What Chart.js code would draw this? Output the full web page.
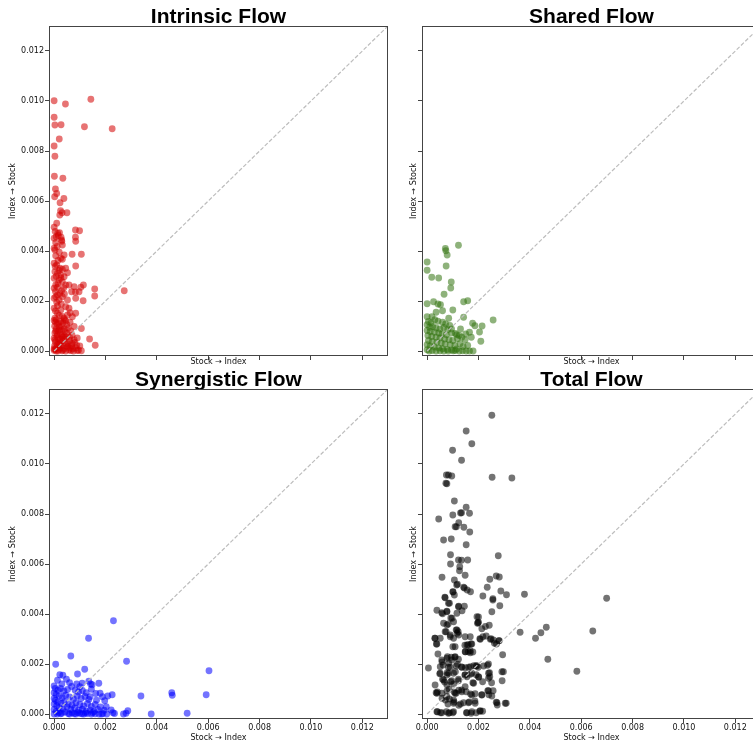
<!DOCTYPE html>
<html>
<head>
<meta charset="utf-8">
<script src="https://cdn.jsdelivr.net/npm/chart.js@4.4.1/dist/chart.umd.min.js"></script>
<style>
html, body { margin: 0; padding: 0; background: #fff; overflow: hidden; width: 753px; height: 745px; }
.panel { position: absolute; }
</style>
</head>
<body>
<div class="panel" style="left:0;top:0;width:395px;height:372px"><canvas id="c0"></canvas></div>
<div class="panel" style="left:400px;top:0;width:362px;height:372px"><canvas id="c1"></canvas></div>
<div class="panel" style="left:0;top:363px;width:395px;height:382px"><canvas id="c2"></canvas></div>
<div class="panel" style="left:400px;top:363px;width:362px;height:382px"><canvas id="c3"></canvas></div>
<script>
// axis setup
const axisMin = -0.0002;
const axisMax = 0.013;
const tickValues = [0, 0.002, 0.004, 0.006, 0.008, 0.010, 0.012];
const titles = ['Intrinsic Flow', 'Shared Flow', 'Synergistic Flow', 'Total Flow'];
const xLabel = 'Stock \u2192 Index';
const yLabel = 'Index \u2192 Stock';

// [stock->index, index->stock]
const intrinsicPoints = [
  [0.00000,0.01001],[0.00143,0.01007],[0.00044,0.00988],[0.00000,0.00935],[0.00003,0.00904],[0.00027,0.00905],
  [0.00118,0.00897],[0.00226,0.00889],[0.00020,0.00848],[0.00000,0.00820],[0.00003,0.00779],[0.00001,0.00699],
  [0.00034,0.00691],[0.00005,0.00648],[0.00010,0.00630],[0.00002,0.00617],[0.00038,0.00610],[0.00023,0.00593],
  [0.00025,0.00561],[0.00031,0.00553],[0.00050,0.00553],[0.00022,0.00544],[0.00010,0.00511],[0.00000,0.00495],
  [0.00083,0.00484],[0.00099,0.00481],[0.00014,0.00471],[0.00021,0.00473],[0.00027,0.00455],[0.00000,0.00451],
  [0.00030,0.00439],[0.00083,0.00455],[0.00084,0.00439],[0.00008,0.00457],[0.00029,0.00444],[0.00006,0.00433],
  [0.00032,0.00424],[0.00000,0.00411],[0.00003,0.00404],[0.00039,0.00384],[0.00032,0.00367],[0.00026,0.00371],
  [0.00070,0.00387],[0.00106,0.00387],[0.00084,0.00340],[0.00000,0.00351],[0.00010,0.00344],[0.00023,0.00331],
  [0.00032,0.00327],[0.00045,0.00331],[0.00003,0.00317],[0.00013,0.00311],[0.00052,0.00313],[0.00026,0.00304],
  [0.00039,0.00297],[0.00000,0.00291],[0.00019,0.00284],[0.00032,0.00277],[0.00006,0.00264],[0.00045,0.00264],
  [0.00058,0.00264],[0.00000,0.00251],[0.00013,0.00255],[0.00029,0.00241],[0.00078,0.00257],[0.00097,0.00237],
  [0.00104,0.00255],[0.00114,0.00264],[0.00158,0.00248],[0.00158,0.00220],[0.00273,0.00241],[0.00068,0.00237],
  [0.00083,0.00236],[0.00013,0.00224],[0.00000,0.00211],[0.00006,0.00217],[0.00032,0.00217],[0.00052,0.00204],
  [0.00113,0.00201],[0.00019,0.00204],[0.00084,0.00211],[0.00045,0.00177],[0.00058,0.00171],[0.00026,0.00164],
  [0.00013,0.00180],[0.00000,0.00171],[0.00052,0.00144],[0.00071,0.00137],[0.00039,0.00131],[0.00013,0.00151],
  [0.00003,0.00131],[0.00084,0.00151],[0.00062,0.00153],[0.00000,0.00122],[0.00005,0.00115],[0.00012,0.00108],
  [0.00002,0.00099],[0.00020,0.00095],[0.00008,0.00088],[0.00030,0.00086],[0.00015,0.00079],[0.00003,0.00072],
  [0.00042,0.00078],[0.00025,0.00068],[0.00055,0.00092],[0.00065,0.00080],[0.00038,0.00062],[0.00011,0.00058],
  [0.00000,0.00051],[0.00048,0.00055],[0.00070,0.00063],[0.00022,0.00047],[0.00032,0.00040],[0.00060,0.00042],
  [0.00005,0.00036],[0.00017,0.00031],[0.00045,0.00030],[0.00080,0.00035],[0.00090,0.00052],[0.00028,0.00022],
  [0.00002,0.00020],[0.00010,0.00013],[0.00052,0.00016],[0.00068,0.00021],[0.00085,0.00012],[0.00038,0.00010],
  [0.00020,0.00006],[0.00000,0.00003],[0.00008,0.00000],[0.00031,0.00001],[0.00058,0.00004],[0.00075,0.00000],
  [0.00095,0.00003],[0.00106,0.00001],[0.00106,0.00090],[0.00138,0.00048],[0.00160,0.00023],[0.00015,0.00000],
  [0.00045,0.00000],[0.00000,0.00009],[0.00012,0.00065],[0.00035,0.00112],[0.00050,0.00105],[0.00078,0.00098],
  [0.00062,0.00115],[0.00040,0.00125],[0.00025,0.00118],[0.00090,0.00002],[0.00088,0.00022],[0.00100,0.00020],
  [0.00072,0.00009],[0.00065,0.00002],[0.00055,0.00028],[0.00020,0.00025],[0.00033,0.00055],
  [0.00004,0.00478],[0.00016,0.00462],[0.00012,0.00418],[0.00020,0.00395],[0.00006,0.00381],[0.00015,0.00362],
  [0.00004,0.00338],[0.00020,0.00322],[0.00008,0.00298],[0.00026,0.00292],[0.00015,0.00270],[0.00037,0.00252],
  [0.00005,0.00238],[0.00022,0.00230],[0.00040,0.00228],[0.00010,0.00195],[0.00028,0.00188],[0.00005,0.00160],
  [0.00020,0.00142],[0.00032,0.00138],[0.00045,0.00120],[0.00008,0.00125],[0.00018,0.00112],[0.00028,0.00100],
  [0.00040,0.00088],[0.00006,0.00080],[0.00020,0.00084],[0.00050,0.00070],[0.00015,0.00050],[0.00030,0.00060],
  [0.00060,0.00055],[0.00003,0.00044],[0.00040,0.00048],[0.00025,0.00035],[0.00012,0.00026],[0.00048,0.00020],
  [0.00062,0.00012],[0.00024,0.00012],[0.00035,0.00004],[0.00005,0.00006],[0.00078,0.00045],[0.00070,0.00030]
];

const sharedPoints = [
  [0.00122,0.00423],[0.00071,0.00410],[0.00073,0.00401],[0.00078,0.00384],[0.00000,0.00356],[0.00000,0.00323],
  [0.00074,0.00340],[0.00018,0.00295],[0.00045,0.00292],[0.00094,0.00276],[0.00092,0.00252],[0.00066,0.00227],
  [0.00000,0.00189],[0.00025,0.00197],[0.00042,0.00188],[0.00052,0.00185],[0.00060,0.00161],[0.00100,0.00164],
  [0.00142,0.00197],[0.00158,0.00201],[0.00000,0.00137],[0.00019,0.00137],[0.00035,0.00155],[0.00084,0.00131],
  [0.00142,0.00135],[0.00177,0.00111],[0.00186,0.00101],[0.00214,0.00100],[0.00257,0.00124],[0.00204,0.00076],
  [0.00209,0.00039],[0.00179,0.00000],[0.00005,0.00118],[0.00015,0.00112],[0.00030,0.00125],[0.00042,0.00119],
  [0.00060,0.00115],[0.00072,0.00108],[0.00088,0.00102],[0.00000,0.00105],[0.00010,0.00095],[0.00022,0.00098],
  [0.00035,0.00092],[0.00050,0.00088],[0.00065,0.00094],[0.00080,0.00085],[0.00000,0.00082],[0.00012,0.00078],
  [0.00028,0.00075],[0.00045,0.00072],[0.00058,0.00068],[0.00075,0.00065],[0.00095,0.00072],[0.00110,0.00070],
  [0.00125,0.00062],[0.00003,0.00062],[0.00018,0.00058],[0.00035,0.00055],[0.00050,0.00052],[0.00068,0.00048],
  [0.00085,0.00045],[0.00100,0.00042],[0.00118,0.00049],[0.00135,0.00055],[0.00148,0.00045],[0.00005,0.00042],
  [0.00020,0.00038],[0.00038,0.00035],[0.00055,0.00032],[0.00070,0.00028],[0.00090,0.00025],[0.00108,0.00022],
  [0.00128,0.00029],[0.00140,0.00018],[0.00158,0.00022],[0.00000,0.00025],[0.00012,0.00020],[0.00028,0.00016],
  [0.00045,0.00012],[0.00060,0.00009],[0.00078,0.00006],[0.00095,0.00004],[0.00110,0.00002],[0.00125,0.00000],
  [0.00138,0.00001],[0.00152,0.00000],[0.00165,0.00000],[0.00000,0.00005],[0.00008,0.00000],[0.00020,0.00002],
  [0.00035,0.00000],[0.00050,0.00001],[0.00065,0.00000],[0.00082,0.00000],[0.00102,0.00001],[0.00115,0.00008],
  [0.00172,0.00055],[0.00165,0.00075],[0.00115,0.00065],[0.00095,0.00088],[0.00130,0.00088],[0.00150,0.00068]
];

const synergisticPoints = [
  [0.00231,0.00373],[0.00134,0.00303],[0.00065,0.00232],[0.00006,0.00199],[0.00282,0.00211],[0.00603,0.00173],
  [0.00119,0.00179],[0.00091,0.00160],[0.00022,0.00157],[0.00034,0.00155],[0.00013,0.00135],[0.00048,0.00139],
  [0.00135,0.00131],[0.00174,0.00123],[0.00148,0.00117],[0.00338,0.00072],[0.00458,0.00085],[0.00460,0.00075],
  [0.00592,0.00077],[0.00226,0.00077],[0.00179,0.00083],[0.00209,0.00072],[0.00197,0.00053],[0.00203,0.00029],
  [0.00287,0.00013],[0.00280,0.00003],[0.00270,0.00000],[0.00378,0.00000],[0.00518,0.00003],[0.00229,0.00005],
  [0.00222,0.00016],[0.00109,0.00123],[0.00100,0.00109],[0.00145,0.00099],[0.00140,0.00069],[0.00188,0.00069],
  [0.00000,0.00112],[0.00004,0.00102],[0.00015,0.00095],[0.00025,0.00102],[0.00038,0.00092],[0.00052,0.00098],
  [0.00068,0.00110],[0.00082,0.00095],[0.00095,0.00088],[0.00110,0.00094],[0.00125,0.00085],[0.00000,0.00085],
  [0.00008,0.00078],[0.00020,0.00072],[0.00032,0.00065],[0.00045,0.00075],[0.00060,0.00068],[0.00075,0.00060],
  [0.00090,0.00072],[0.00105,0.00062],[0.00120,0.00070],[0.00135,0.00058],[0.00000,0.00062],[0.00005,0.00055],
  [0.00014,0.00048],[0.00028,0.00042],[0.00040,0.00050],[0.00055,0.00040],[0.00070,0.00035],[0.00085,0.00045],
  [0.00100,0.00038],[0.00115,0.00032],[0.00130,0.00042],[0.00145,0.00030],[0.00160,0.00038],[0.00000,0.00040],
  [0.00010,0.00033],[0.00020,0.00025],[0.00035,0.00020],[0.00050,0.00028],[0.00065,0.00018],[0.00080,0.00024],
  [0.00095,0.00015],[0.00110,0.00019],[0.00125,0.00010],[0.00140,0.00016],[0.00155,0.00010],[0.00170,0.00018],
  [0.00000,0.00018],[0.00008,0.00010],[0.00018,0.00006],[0.00030,0.00003],[0.00042,0.00008],[0.00055,0.00002],
  [0.00070,0.00005],[0.00085,0.00000],[0.00100,0.00003],[0.00115,0.00000],[0.00130,0.00002],[0.00145,0.00000],
  [0.00160,0.00001],[0.00175,0.00000],[0.00190,0.00002],[0.00205,0.00000],[0.00000,0.00000],[0.00012,0.00000],
  [0.00025,0.00001],[0.00060,0.00000],[0.00078,0.00001],[0.00092,0.00006],[0.00108,0.00001],[0.00122,0.00004],
  [0.00150,0.00005],[0.00185,0.00000],[0.00235,0.00002],[0.00195,0.00015],[0.00180,0.00028],[0.00165,0.00055],
  [0.00142,0.00120],[0.00088,0.00120],[0.00060,0.00125],[0.00030,0.00120],[0.00162,0.00082]
];

const totalPoints = [
  [0.00252,0.01195],[0.00152,0.01132],[0.00174,0.01081],[0.00099,0.01055],[0.00134,0.01015],[0.00075,0.00956],
  [0.00083,0.00956],[0.00096,0.00952],[0.00073,0.00923],[0.00077,0.00921],[0.00253,0.00947],[0.00330,0.00944],
  [0.00106,0.00852],[0.00152,0.00827],[0.00045,0.00780],[0.00100,0.00796],[0.00130,0.00804],[0.00134,0.00805],
  [0.00165,0.00803],[0.00123,0.00765],[0.00114,0.00749],[0.00109,0.00749],[0.00143,0.00747],[0.00166,0.00728],
  [0.00064,0.00696],[0.00094,0.00700],[0.00152,0.00677],[0.00091,0.00637],[0.00277,0.00633],[0.00122,0.00616],
  [0.00134,0.00615],[0.00158,0.00616],[0.00127,0.00589],[0.00126,0.00573],[0.00091,0.00600],[0.00148,0.00555],
  [0.00058,0.00547],[0.00106,0.00536],[0.00118,0.00519],[0.00269,0.00552],[0.00281,0.00548],[0.00244,0.00539],
  [0.00234,0.00507],[0.00145,0.00504],[0.00156,0.00496],[0.00169,0.00489],[0.00287,0.00492],[0.00309,0.00477],
  [0.00379,0.00479],[0.00101,0.00488],[0.00106,0.00476],[0.00069,0.00467],[0.00217,0.00472],[0.00256,0.00461],
  [0.00256,0.00456],[0.00699,0.00463],[0.00087,0.00443],[0.00283,0.00433],[0.00252,0.00409],[0.00038,0.00415],
  [0.00077,0.00411],[0.00060,0.00401],[0.00123,0.00431],[0.00145,0.00431],[0.00136,0.00413],[0.00092,0.00384],
  [0.00097,0.00383],[0.00082,0.00360],[0.00200,0.00388],[0.00200,0.00367],[0.00196,0.00363],[0.00113,0.00336],
  [0.00121,0.00329],[0.00117,0.00323],[0.00123,0.00316],[0.00074,0.00329],[0.00090,0.00309],[0.00213,0.00341],
  [0.00227,0.00350],[0.00242,0.00355],[0.00362,0.00327],[0.00464,0.00347],[0.00443,0.00325],[0.00422,0.00303],
  [0.00645,0.00332],[0.00030,0.00303],[0.00051,0.00303],[0.00036,0.00280],[0.00168,0.00309],[0.00205,0.00301],
  [0.00217,0.00309],[0.00230,0.00312],[0.00249,0.00301],[0.00258,0.00296],[0.00281,0.00293],[0.00262,0.00283],
  [0.00270,0.00280],[0.00147,0.00275],[0.00160,0.00277],[0.00171,0.00280],[0.00100,0.00269],[0.00109,0.00269],
  [0.00042,0.00240],[0.00294,0.00237],[0.00470,0.00219],[0.00149,0.00249],[0.00160,0.00249],[0.00168,0.00245],
  [0.00178,0.00248],[0.00079,0.00229],[0.00094,0.00227],[0.00108,0.00227],[0.00583,0.00171],[0.00005,0.00184],
  [0.00058,0.00208],[0.00062,0.00196],[0.00084,0.00203],[0.00083,0.00187],[0.00118,0.00199],[0.00113,0.00192],
  [0.00134,0.00188],[0.00149,0.00185],[0.00169,0.00189],[0.00182,0.00193],[0.00191,0.00193],[0.00199,0.00187],
  [0.00235,0.00195],[0.00049,0.00161],[0.00078,0.00165],[0.00084,0.00163],[0.00110,0.00169],[0.00147,0.00156],
  [0.00168,0.00159],[0.00191,0.00157],[0.00201,0.00147],[0.00243,0.00165],[0.00244,0.00149],[0.00297,0.00169],
  [0.00060,0.00139],[0.00068,0.00128],[0.00092,0.00129],[0.00122,0.00133],[0.00178,0.00125],[0.00216,0.00129],
  [0.00251,0.00125],[0.00292,0.00133],[0.00035,0.00085],[0.00040,0.00088],[0.00077,0.00092],[0.00086,0.00099],
  [0.00106,0.00087],[0.00113,0.00083],[0.00123,0.00095],[0.00134,0.00096],[0.00152,0.00089],[0.00169,0.00080],
  [0.00187,0.00081],[0.00213,0.00077],[0.00236,0.00093],[0.00257,0.00093],[0.00240,0.00077],[0.00058,0.00063],
  [0.00071,0.00056],[0.00087,0.00060],[0.00105,0.00048],[0.00142,0.00045],[0.00164,0.00048],[0.00186,0.00052],
  [0.00269,0.00047],[0.00273,0.00036],[0.00308,0.00043],[0.00040,0.00009],[0.00052,0.00005],[0.00075,0.00009],
  [0.00087,0.00005],[0.00100,0.00005],[0.00153,0.00005],[0.00171,0.00003],[0.00191,0.00005],[0.00205,0.00011],
  [0.00216,0.00011],[0.00123,0.00035],[0.00130,0.00040],[0.00103,0.00043],[0.00081,0.00040],
  [0.00115,0.00516],[0.00142,0.00507],[0.00100,0.00489],[0.00070,0.00465],[0.00083,0.00443],[0.00122,0.00429],
  [0.00057,0.00405],[0.00077,0.00409],[0.00116,0.00403],[0.00194,0.00389],[0.00198,0.00365],[0.00064,0.00363],
  [0.00077,0.00356],[0.00103,0.00369],[0.00116,0.00336],[0.00070,0.00329],[0.00090,0.00316],[0.00031,0.00303],
  [0.00103,0.00303],[0.00148,0.00309],[0.00207,0.00299],[0.00246,0.00299],[0.00279,0.00293],[0.00038,0.00280],
  [0.00155,0.00276],[0.00174,0.00280],[0.00148,0.00249],[0.00168,0.00253],[0.00109,0.00229],[0.00057,0.00216],
  [0.00077,0.00223],[0.00096,0.00216],[0.00122,0.00219],[0.00194,0.00192],[0.00220,0.00192],[0.00239,0.00200],
  [0.00051,0.00189],[0.00090,0.00187],[0.00135,0.00187],[0.00161,0.00187],[0.00051,0.00163],[0.00077,0.00156],
  [0.00103,0.00163],[0.00148,0.00156],[0.00174,0.00163],[0.00239,0.00163],[0.00291,0.00169],[0.00064,0.00136],
  [0.00096,0.00133],[0.00122,0.00139],[0.00155,0.00149],[0.00200,0.00149],[0.00239,0.00143],[0.00031,0.00116],
  [0.00077,0.00116],[0.00103,0.00120],[0.00148,0.00109],[0.00181,0.00123],[0.00038,0.00083],[0.00057,0.00083],
  [0.00109,0.00083],[0.00135,0.00089],[0.00174,0.00076],[0.00213,0.00076],[0.00239,0.00093],[0.00252,0.00072],
  [0.00077,0.00069],[0.00103,0.00056],[0.00161,0.00045],[0.00187,0.00043],[0.00272,0.00045],[0.00304,0.00043],
  [0.00038,0.00009],[0.00057,0.00005],[0.00083,0.00003],[0.00103,0.00009],[0.00155,0.00005],[0.00174,0.00009],
  [0.00207,0.00013]
];

const seriesPoints = [intrinsicPoints, sharedPoints, synergisticPoints, totalPoints];
const seriesColors = ['rgba(212,0,0,0.55)', 'rgba(50,115,15,0.55)', 'rgba(0,0,255,0.55)', 'rgba(0,0,0,0.55)'];

// panel layout: which labels show, fixed axis sizes
const panelLayout = [
  { xTicks: false, yTicks: true,  yWidth: 49, xHeight: 16, yTitlePad: 8.5, xTitlePad: 5, padRight: 7 },
  { xTicks: false, yTicks: false, yWidth: 22, xHeight: 16, yTitlePad: 9.5, xTitlePad: 5, padRight: 1 },
  { xTicks: true,  yTicks: true,  yWidth: 49, xHeight: 26, yTitlePad: 8.5, xTitlePad: 2, padRight: 7 },
  { xTicks: true,  yTicks: false, yWidth: 22, xHeight: 26, yTitlePad: 9.5, xTitlePad: 2, padRight: 1 }
];

const axisColor = '#444';
const textColor = '#111';
const tickFont = { family: 'DejaVu Sans', size: 8 };

const frameBox = {
  id: 'frameBox',
  afterDraw(chart) {
    const a = chart.chartArea;
    const ctx = chart.ctx;
    ctx.save();
    ctx.strokeStyle = axisColor;
    ctx.lineWidth = 1;
    ctx.strokeRect(Math.round(a.left) + 0.5, Math.round(a.top) + 0.5,
      Math.round(a.right - a.left) - 1, Math.round(a.bottom - a.top) - 1);
    ctx.restore();
  }
};

function setTicks(scale) {
  scale.ticks = tickValues.map(v => ({ value: v }));
}

seriesPoints.forEach((pts, i) => {
  const L = panelLayout[i];
  new Chart(document.getElementById('c' + i), {
    type: 'scatter',
    data: {
      datasets: [
        {
          type: 'line',
          data: [{ x: 0, y: 0 }, { x: axisMax, y: axisMax }],
          borderColor: '#bdbdbd',
          borderWidth: 1.2,
          borderDash: [4, 2],
          pointRadius: 0,
          fill: false
        },
        {
          data: pts.map(p => ({ x: p[0], y: p[1] })),
          backgroundColor: seriesColors[i],
          borderWidth: 0,
          pointRadius: 3.4
        }
      ]
    },
    options: {
      responsive: true,
      maintainAspectRatio: false,
      animation: false,
      events: [],
      layout: { autoPadding: false, padding: { right: L.padRight } },
      plugins: {
        legend: { display: false },
        tooltip: { enabled: false },
        title: {
          display: true,
          text: titles[i],
          fullSize: false,
          color: '#000',
          font: { family: 'Liberation Sans, Arial, sans-serif', size: 21, weight: 'bold', lineHeight: 0.8 },
          padding: { top: 9.2, bottom: 0 }
        }
      },
      scales: {
        x: {
          type: 'linear',
          min: axisMin,
          max: axisMax,
          afterBuildTicks: setTicks,
          afterFit(s) { s.height = L.xHeight; },
          border: { display: false },
          grid: { drawOnChartArea: false, drawTicks: true, tickLength: 4, color: axisColor },
          ticks: { display: L.xTicks, padding: 0, color: textColor, font: tickFont, maxRotation: 0,
            callback: v => v.toFixed(3) },
          title: { display: true, text: xLabel, color: textColor, font: tickFont,
            padding: { top: 0, bottom: L.xTitlePad } }
        },
        y: {
          type: 'linear',
          min: axisMin,
          max: axisMax,
          afterBuildTicks: setTicks,
          afterFit(s) { s.width = L.yWidth; },
          border: { display: false },
          grid: { drawOnChartArea: false, drawTicks: true, tickLength: 4, color: axisColor },
          ticks: { display: L.yTicks, padding: 1, color: textColor, font: tickFont,
            callback: v => v.toFixed(3) },
          title: { display: true, text: yLabel, color: textColor, font: tickFont,
            padding: { top: L.yTitlePad, bottom: 0 } }
        }
      }
    },
    plugins: [frameBox]
  });
});
</script>
</body>
</html>
